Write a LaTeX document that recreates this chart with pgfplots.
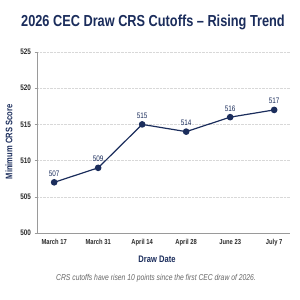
\documentclass[border=0pt]{standalone}
\usepackage{pgfplots}
\pgfplotsset{compat=1.18}
\usepackage{fontspec}
\setmainfont{Liberation Sans}[FakeStretch=0.80]
\definecolor{navy}{HTML}{1B2D5C}
\definecolor{axisgray}{HTML}{9A9A9A}
\definecolor{gridgray}{HTML}{D8D8D8}
\definecolor{ticktext}{HTML}{2B2B2B}
\begin{document}
\begin{tikzpicture}
\path[fill=white] (0bp,0bp) rectangle (300bp,300bp);
\useasboundingbox (0bp,0bp) rectangle (300bp,300bp);
\begin{axis}[
  at={(37bp,67bp)}, anchor=south west,
  scale only axis, width=253bp, height=181bp,
  xmin=-0.39, xmax=5.36, ymin=500, ymax=525,
  xtick={0,1,2,3,4,5},
  xticklabels={March 17,March 31,April 14,April 28,June 23,July 7},
  ytick={500,505,510,515,520,525},
  axis x line*=bottom, axis y line*=left,
  axis line style={axisgray, line width=0.9pt},
  x axis line style={-}, y axis line style={-},
  major tick length=2.5bp,
  xtick style={draw=none},
  ytick style={axisgray, line width=0.6pt},
  tick align=outside,
  ymajorgrids, grid style={gridgray, densely dotted, line width=0.6pt},
  xticklabel style={font=\fontsize{7.3}{8}\selectfont\bfseries, text=ticktext},
  yticklabel style={font=\fontsize{8}{9}\selectfont\bfseries, text=ticktext},
  /pgf/number format/assume math mode=true,
  clip=false,
]
\addplot[navy, line width=1.2pt, mark=*, mark size=2.7pt,
  nodes near coords, point meta=explicit symbolic,
  every node near coord/.append style={font=\fontsize{8}{9}\selectfont, text=navy, yshift=2bp}]
  table[meta=lab] {
    x y lab
    0 507 507
    1 509 509
    2 515 515
    3 514 514
    4 516 516
    5 517 517
  };
\end{axis}
\node[font=\fontsize{16}{17}\selectfont\bfseries, text=navy] at (153bp,278bp) {2026 CEC Draw CRS Cutoffs – Rising Trend};
\node[font=\fontsize{9.5}{10}\selectfont\bfseries, text=navy, rotate=90] at (9bp,158bp) {Minimum CRS Score};
\node[font=\fontsize{9.5}{10}\selectfont\bfseries, text=navy] at (157bp,41bp) {Draw Date};
\node[font=\fontsize{8.5}{9}\selectfont\itshape, text=black!60] at (156bp,22bp) {CRS cutoffs have risen 10 points since the first CEC draw of 2026.};
\end{tikzpicture}
\end{document}
